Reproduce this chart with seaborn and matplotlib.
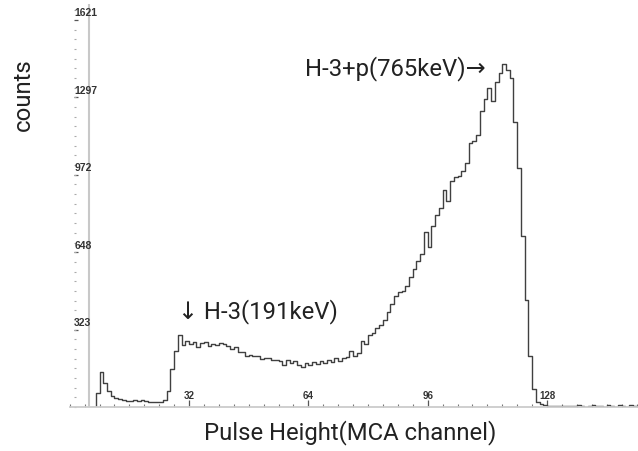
import numpy as np
import pandas as pd
import matplotlib
matplotlib.use("Agg")
import matplotlib.pyplot as plt
from matplotlib.ticker import FixedLocator, MultipleLocator
import seaborn as sns

# MCA spectrum: counts per channel, starting at channel 6
first_channel = 6
counts = [
    0, 60, 147, 100, 68, 48, 38, 35, 30, 27,          # 6-15
    25, 28, 26, 30, 27, 22, 22, 20, 22, 28,           # 16-25
    67, 159, 235, 300, 258, 275, 262, 272, 250, 268,  # 26-35
    272, 256, 262, 258, 268, 264, 256, 244, 250, 232, # 36-45
    232, 215, 216, 214, 214, 202, 206, 206, 198, 198, # 46-55
    192, 176, 195, 186, 192, 178, 168, 186, 176, 190, # 56-65
    180, 194, 186, 198, 190, 206, 194, 206, 210, 235, # 66-75
    212, 228, 276, 262, 300, 310, 330, 345, 365, 398, # 76-85
    431, 465, 482, 485, 507, 545, 578, 612, 641, 735, # 86-95
    670, 760, 805, 835, 910, 862, 945, 962, 968, 990, # 96-105
    1020, 1105, 1115, 1140, 1240, 1290, 1335, 1280, 1360, 1400,  # 106-115
    1437, 1410, 1380, 1195, 1000, 715, 450, 215, 75, 22,         # 116-125
    12, 8, 6, 5, 4, 6, 3, 5, 4, 3,                    # 126-135
    8, 4, 2, 6, 10, 4, 3, 2, 7, 3,                    # 136-145
    2, 9, 3, 2, 8, 4, 3,                              # 146-152
]
channels = np.arange(first_channel, first_channel + len(counts)) + 0.5
spectrum = pd.DataFrame({"channel": channels, "counts": counts})

x_major = [32, 64, 96, 128]
y_major = [323, 648, 972, 1297, 1621]
y_labels = ["323", "648", "972", "1297", "1621"]

sns.set_style("white")
plt.rcParams["font.family"] = ["Roboto", "DejaVu Sans"]

fig = plt.figure(figsize=(6.38, 4.52), dpi=100)
ax = fig.add_axes([69.7 / 638, 44 / 452, 568.3 / 638, 403 / 452])

sns.histplot(data=spectrum, x="channel", weights="counts",
             binwidth=1, binrange=(first_channel, first_channel + len(counts)),
             element="step", fill=False, color="#404040", linewidth=1.0, ax=ax)

ax.set_xlim(0, 152.4)
ax.set_ylim(0, 1688)
ax.set_xlabel("")
ax.set_ylabel("")

# spines
for s in ("top", "right"):
    ax.spines[s].set_visible(False)
ax.spines["bottom"].set_color("#cccccc")
ax.spines["bottom"].set_linewidth(1.3)
ax.spines["left"].set_position(("data", 1.2))
ax.spines["left"].set_visible(False)
ax.axvline(5.17, color="#c8c8c8", linewidth=1.5, zorder=0)

# x ticks drawn inside, labels sitting above the axis line
ax.xaxis.set_major_locator(FixedLocator(x_major))
ax.xaxis.set_minor_locator(MultipleLocator(4))
ax.set_xticklabels([str(v) for v in x_major])
ax.tick_params(axis="x", which="both", bottom=True)
ax.tick_params(axis="x", which="major", direction="in", length=5, width=0.9,
               color="#555555", pad=-12, labelsize=7,
               labelcolor="#333333")
ax.tick_params(axis="x", which="minor", direction="in", length=2.5, width=0.8,
               color="#777777")
for lab in ax.get_xticklabels():
    lab.set_fontfamily("Liberation Sans")
    lab.set_fontweight("bold")

# y ticks as small dashes with labels above them
ax.yaxis.set_major_locator(FixedLocator(y_major))
ax.yaxis.set_minor_locator(MultipleLocator(1621 / 40))
ax.tick_params(axis="y", which="both", left=True)
ax.tick_params(axis="y", which="major", direction="in", length=3, width=0.9,
               color="#555555", labelleft=False)
ax.tick_params(axis="y", which="minor", direction="in", length=1.2, width=0.8,
               color="#aaaaaa")
for v, t in zip(y_major, y_labels):
    ax.annotate(t, xy=(1.2, v), xytext=(0, 2), textcoords="offset points",
                ha="left", va="bottom", fontsize=7.5, fontweight="bold",
                family="Liberation Sans", color="#333333")

# peak annotations
ax.text(29.0, 377, "\u2193 H-3(191keV)", fontsize=17.2, color="#222222",
        ha="left", va="baseline", family=["Roboto", "DejaVu Sans"])
ax.text(63.1, 1391, "H-3+p(765keV)\u2192", fontsize=17.2, color="#222222",
        ha="left", va="baseline", family=["Roboto", "DejaVu Sans"])

fig.text(350 / 638, 1 - 433 / 452, "Pulse Height(MCA channel)", fontsize=17.2,
         color="#222222", ha="center", va="center")
fig.text(23 / 638, 1 - 95 / 452, "counts", fontsize=17.2, color="#222222",
         ha="center", va="center", rotation=90)

fig.savefig("out.png", dpi=100)
